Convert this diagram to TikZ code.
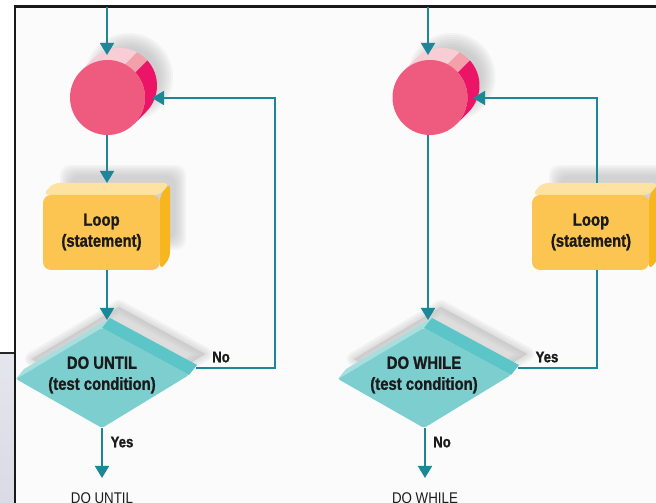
\documentclass[tikz,border=0pt]{standalone}
\usepackage{fontspec}
\setmainfont{Liberation Sans}
\newfontfamily\cond[FakeStretch=0.86]{Liberation Sans}
\newfontfamily\condbold[FakeStretch=0.85, FakeBold=1.2]{Liberation Sans Bold}
\usetikzlibrary{arrows.meta}
\definecolor{flow}{HTML}{1B8797}
\definecolor{ink}{HTML}{1A1A1A}
\definecolor{paper}{HTML}{FBFBFB}
\definecolor{discfront}{HTML}{EF5B7E}
\definecolor{disclight}{HTML}{F8CDD6}
\definecolor{discmid}{HTML}{F3A0AB}
\definecolor{discdark}{HTML}{EC1467}
\definecolor{boxfront}{HTML}{FCC450}
\definecolor{boxtop}{HTML}{FDE2A2}
\definecolor{boxside}{HTML}{F7B51E}
\definecolor{dmfront}{HTML}{7DCFCF}
\definecolor{dmtop}{HTML}{5BC5C7}
\definecolor{dmstrip}{HTML}{A8DFDE}
\definecolor{sidepanel}{HTML}{D9DBE5}

% 3D disc: front circle of radius 37.5pt, extruded by (12,12)
\newcommand\discshape[1]{%
  \begin{scope}[shift={(#1)}]
    \foreach \i [evaluate=\i as \rr using 44-2*\i] in {0,...,7}
      \fill[gray!60, opacity=0.1] (21.5,20.5) circle[radius=\rr pt];
    \fill[disclight] (135:37.5pt) arc[start angle=135, end angle=62, radius=37.5pt]
      -- ++(12,12) arc[start angle=62, end angle=135, radius=37.5pt] -- cycle;
    \fill[discmid] (62:37.5pt) arc[start angle=62, end angle=42, radius=37.5pt]
      -- ++(12,12) arc[start angle=42, end angle=62, radius=37.5pt] -- cycle;
    \fill[discdark] (42:37.5pt) arc[start angle=42, end angle=-45, radius=37.5pt]
      -- ++(12,12) arc[start angle=-45, end angle=42, radius=37.5pt] -- cycle;
    \fill[discfront] (0,0) circle[radius=37.5pt];
  \end{scope}}

% 3D box: front face 117 x 75, lower-left corner given, extruded by (10,12)
\newcommand\boxshape[1]{%
  \begin{scope}[shift={(#1)}]
    \foreach \i [evaluate=\i as \d using -5+1.5*\i] in {0,...,7}
      \fill[gray!60, opacity=0.09, rounded corners=10pt]
        (22+\d,25+\d) rectangle (138-\d,100-\d);
    \fill[boxside, rounded corners=6pt] (117,0) -- (127,12) -- (127,87) -- (117,75) -- cycle;
    \fill[boxtop, rounded corners=6pt] (0,75) -- (10,87) -- (127,87) -- (117,75) -- cycle;
    \fill[boxfront, rounded corners=8pt] (0,0) rectangle (117,75);
  \end{scope}}

% 3D decision diamond, left corner given
\newcommand\diamondshape[1]{%
  \begin{scope}[shift={(#1)}]
    \foreach \w in {14,10,6,2}
      \filldraw[gray!60, opacity=0.11, line width=\w pt, line join=round]
        (16,20) -- (103,72) -- (189,25) -- (102,-28) -- cycle;
    \fill[dmstrip] (0,0) -- (86,51) -- (94,61) -- (8,10) -- cycle;
    \fill[dmtop] (86,51) -- (173,4) -- (181,14) -- (94,61) -- cycle;
    \fill[dmfront, rounded corners=2pt] (0,0) -- (86,51) -- (173,4) -- (86,-49) -- cycle;
  \end{scope}}

\begin{document}
\begin{tikzpicture}[x=1pt, y=1pt,
  flowline/.style={draw=flow, line width=1.8pt},
  arr/.style={flowline, -{Triangle[length=12pt, width=14pt]}},
  lbl/.style={font=\condbold\fontsize{17.5}{21}\selectfont, text=ink, align=center, inner sep=0pt},
  tag/.style={font=\condbold\fontsize{15.5}{18}\selectfont, text=ink, inner sep=0pt},
  endtext/.style={font=\cond\fontsize{15.5}{18}\selectfont, text=ink, inner sep=0pt, anchor=base}]

  \useasboundingbox (0,0) rectangle (656,503);

  % page and frame
  \fill[white] (0,0) rectangle (656,503);
  \fill[paper] (15,0) rectangle (656,496);
  \shade[top color=sidepanel!70, bottom color=sidepanel] (0,0) rectangle (14,150);
  \draw[black!85, line width=1.2pt] (0,150) -- (15,150);
  \draw[black!90, line width=2.4pt] (15,0) -- (15,496.5) -- (656,496.5);

  % ---------- DO UNTIL ----------
  \discshape{107.5,405.5}
  \boxshape{43,233}
  \diamondshape{16,124}

  \coordinate (u-in)     at (107,496);
  \coordinate (u-disc-t) at (107,448);
  \coordinate (u-disc-b) at (107,368);
  \coordinate (u-disc-r) at (152,405);
  \coordinate (u-box-t)  at (107,320);
  \coordinate (u-box-b)  at (107,233);
  \coordinate (u-dec-t)  at (107,183);
  \coordinate (u-dec-r)  at (196,135);
  \coordinate (u-dec-b)  at (102,75);
  \coordinate (u-out)    at (102,25);
  \coordinate (u-loop)   at (275,135);

  \draw[arr] (u-in) -- (u-disc-t);
  \draw[arr] (u-disc-b) -- (u-box-t);
  \draw[arr] (u-box-b) -- (u-dec-t);
  \draw[arr] (u-dec-r) -- (u-loop) |- (u-disc-r);
  \draw[arr] (u-dec-b) -- (u-out);

  \node[lbl] (u-box-text) at (101.5,271) {Loop\\(statement)};
  \node[lbl] (u-dec-text) at (102,128) {DO UNTIL\\(test condition)};
  \node[tag] (u-no)  at (221,146) {No};
  \node[tag] (u-yes) at (122,61) {Yes};
  \node[endtext] (u-title) at (102,-1) {DO UNTIL};

  % ---------- DO WHILE ----------
  \discshape{430,405.5}
  \boxshape{532,233}
  \diamondshape{338,124}

  \coordinate (w-in)     at (428,496);
  \coordinate (w-disc-t) at (428,448);
  \coordinate (w-disc-b) at (428,368);
  \coordinate (w-disc-r) at (473,405);
  \coordinate (w-dec-t)  at (428,183);
  \coordinate (w-dec-r)  at (518,135);
  \coordinate (w-dec-b)  at (425,75);
  \coordinate (w-out)    at (425,25);
  \coordinate (w-box-t)  at (597,320);
  \coordinate (w-box-b)  at (597,233);
  \coordinate (w-corner) at (597,135);

  \draw[arr] (w-in) -- (w-disc-t);
  \draw[arr] (w-disc-b) -- (w-dec-t);
  \draw[flowline] (w-dec-r) -- (w-corner) -- (w-box-b);
  \draw[arr] (w-box-t) |- (w-disc-r);
  \draw[arr] (w-dec-b) -- (w-out);

  \node[lbl] (w-box-text) at (591,271) {Loop\\(statement)};
  \node[lbl] (w-dec-text) at (424,128) {DO WHILE\\(test condition)};
  \node[tag] (w-yes) at (547,146) {Yes};
  \node[tag] (w-no)  at (442,61) {No};
  \node[endtext] (w-title) at (425,-1) {DO WHILE};
\end{tikzpicture}
\end{document}
